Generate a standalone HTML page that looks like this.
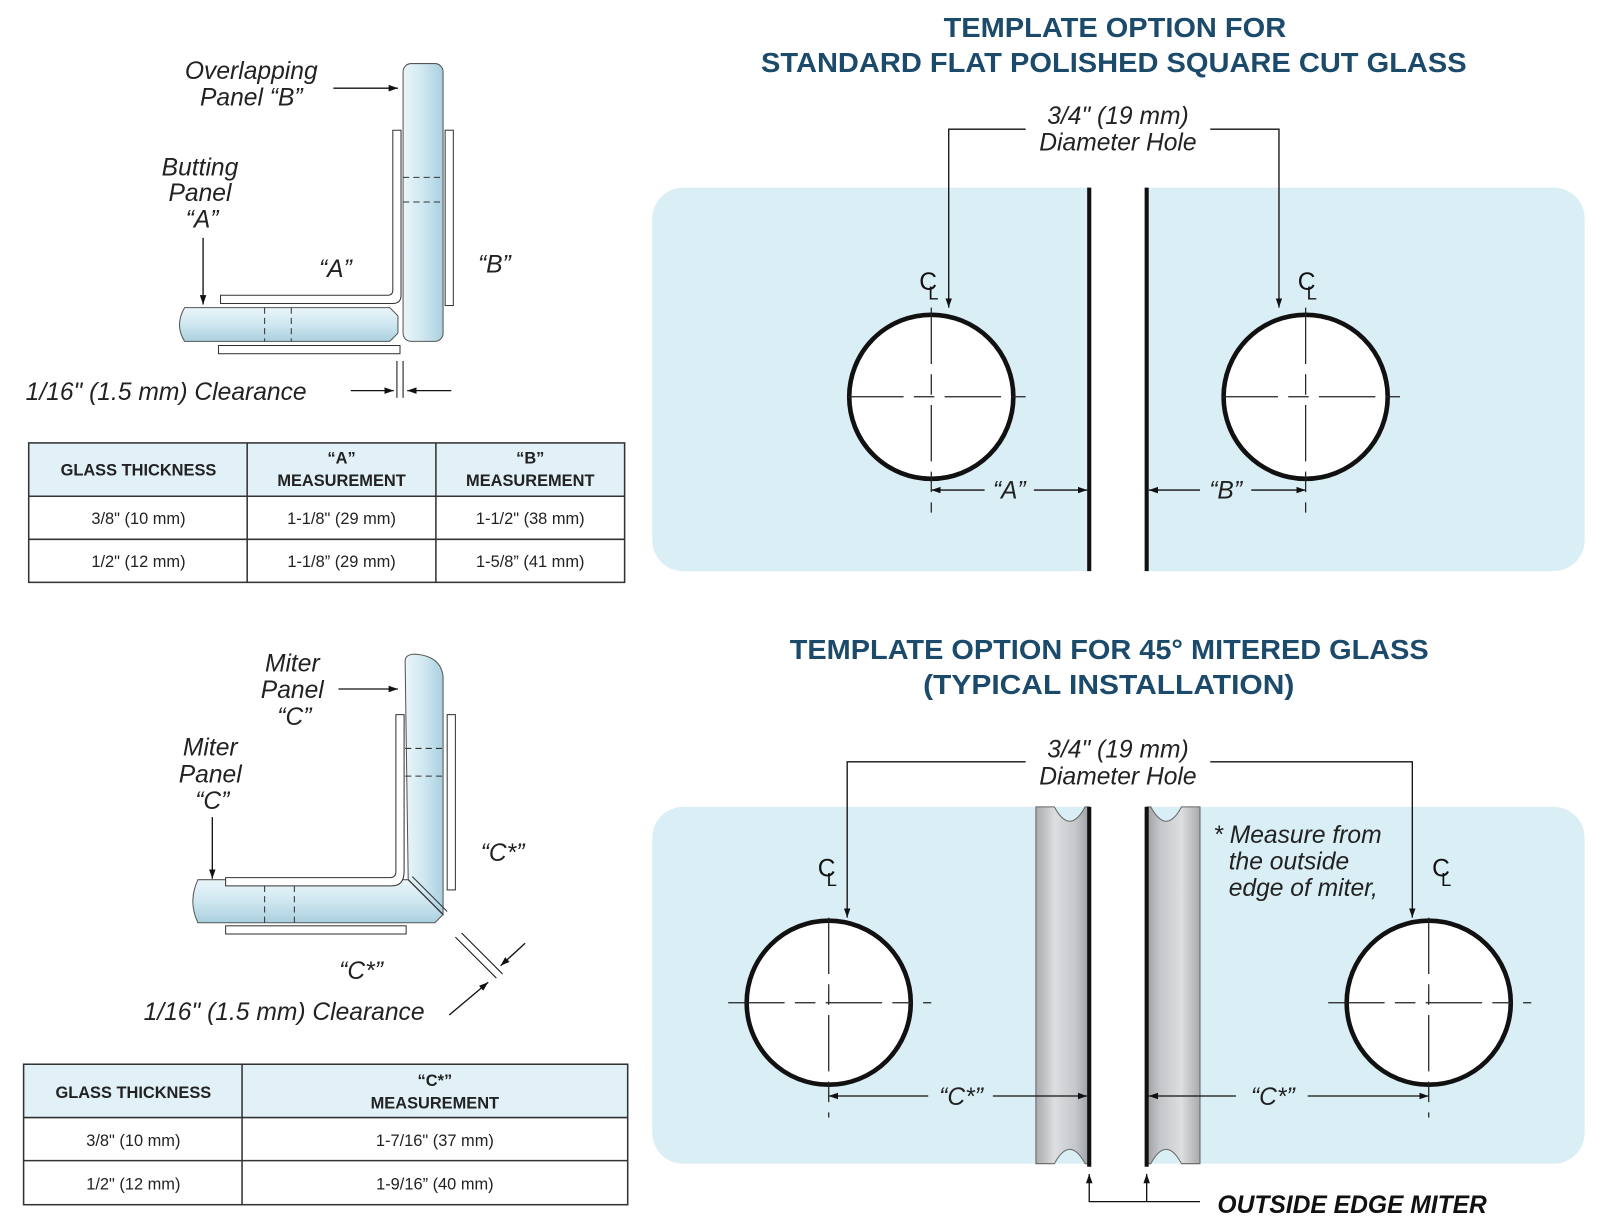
<!DOCTYPE html>
<html><head><meta charset="utf-8"><style>
html,body{margin:0;padding:0;background:#fff;}
svg{display:block;}
.t{font-family:"Liberation Sans",Arial,sans-serif;}
.it{font-family:"Liberation Sans",Arial,sans-serif;font-style:italic;font-size:24px;fill:#222;}
.tt{font-family:"Liberation Sans",Arial,sans-serif;font-weight:bold;font-size:27px;fill:#1b4a6b;}
.th{font-family:"Liberation Sans",Arial,sans-serif;font-weight:bold;font-size:16px;fill:#222;}
.td{font-family:"Liberation Sans",Arial,sans-serif;font-size:16px;fill:#222;}
</style></head><body>
<svg width="1600" height="1217" viewBox="0 0 1560 1187" preserveAspectRatio="none" xmlns="http://www.w3.org/2000/svg">
<defs>
<marker id="ar" viewBox="0 0 10 10" refX="10" refY="5" markerWidth="7" markerHeight="7" orient="auto-start-reverse"><path d="M0,1.5 L10,5 L0,8.5 z" fill="#111"/></marker>
<linearGradient id="gv" x1="0" x2="1" y1="0" y2="0"><stop offset="0" stop-color="#eaf6fa"/><stop offset="0.5" stop-color="#cfe7f0"/><stop offset="1" stop-color="#a9d0de"/></linearGradient>
<linearGradient id="gh" x1="0" x2="0" y1="0" y2="1"><stop offset="0" stop-color="#eaf6fa"/><stop offset="0.5" stop-color="#cfe7f0"/><stop offset="1" stop-color="#a9d0de"/></linearGradient>
<linearGradient id="gm" x1="0" x2="1" y1="0" y2="0"><stop offset="0" stop-color="#a8aaad"/><stop offset="0.35" stop-color="#dcdee0"/><stop offset="0.75" stop-color="#c4c7ca"/><stop offset="1" stop-color="#9c9fa3"/></linearGradient>
<linearGradient id="gm2" x1="0" x2="1" y1="0" y2="0"><stop offset="0" stop-color="#9c9fa3"/><stop offset="0.25" stop-color="#c4c7ca"/><stop offset="0.65" stop-color="#dcdee0"/><stop offset="1" stop-color="#a8aaad"/></linearGradient>
</defs>

<!-- ===== TOP RIGHT ===== -->
<text class="tt" x="920" y="36" textLength="334" lengthAdjust="spacingAndGlyphs">TEMPLATE OPTION FOR</text>
<text class="tt" x="742" y="70" textLength="688" lengthAdjust="spacingAndGlyphs">STANDARD FLAT POLISHED SQUARE CUT GLASS</text>
<rect x="636" y="183" width="909" height="374" rx="30" fill="#d9eef5"/>
<rect x="1062" y="183" width="56" height="374" fill="#fff"/>
<line x1="1062" y1="183" x2="1062" y2="557" stroke="#111" stroke-width="4"/>
<line x1="1118" y1="183" x2="1118" y2="557" stroke="#111" stroke-width="4"/>
<text class="it" x="1090" y="121" text-anchor="middle">3/4" (19 mm)</text>
<text class="it" x="1090" y="147" text-anchor="middle">Diameter Hole</text>
<polyline points="1000,126 925,126 925,300" fill="none" stroke="#111" stroke-width="1.3" marker-end="url(#ar)"/>
<polyline points="1180,126 1247,126 1247,300" fill="none" stroke="#111" stroke-width="1.3" marker-end="url(#ar)"/>
<text class="t" x="905" y="283" font-size="24" text-anchor="middle" fill="#111">C</text><text class="t" x="910" y="292" font-size="18" text-anchor="middle" fill="#111">L</text>
<text class="t" x="1274" y="283" font-size="24" text-anchor="middle" fill="#111">C</text><text class="t" x="1279" y="292" font-size="18" text-anchor="middle" fill="#111">L</text>
<circle cx="908" cy="387" r="80" fill="#fff" stroke="#111" stroke-width="4.5"/>
<circle cx="1273" cy="387" r="80" fill="#fff" stroke="#111" stroke-width="4.5"/>
<g stroke="#222" stroke-width="1.2" stroke-dasharray="55,10,20,10">
<line x1="826" y1="387" x2="1000" y2="387"/><line x1="908" y1="300" x2="908" y2="500"/>
<line x1="1191" y1="387" x2="1365" y2="387"/><line x1="1273" y1="300" x2="1273" y2="500"/>
</g>
<line x1="908" y1="478" x2="960" y2="478" stroke="#111" stroke-width="1.3" marker-start="url(#ar)"/>
<line x1="1008" y1="478" x2="1060" y2="478" stroke="#111" stroke-width="1.3" marker-end="url(#ar)"/>
<text class="it" x="984" y="486" text-anchor="middle">“A”</text>
<line x1="1120" y1="478" x2="1170" y2="478" stroke="#111" stroke-width="1.3" marker-start="url(#ar)"/>
<line x1="1220" y1="478" x2="1273" y2="478" stroke="#111" stroke-width="1.3" marker-end="url(#ar)"/>
<text class="it" x="1195" y="486" text-anchor="middle">“B”</text>

<!-- ===== BOTTOM RIGHT ===== -->
<text class="tt" x="770" y="643" textLength="623" lengthAdjust="spacingAndGlyphs">TEMPLATE OPTION FOR 45° MITERED GLASS</text>
<text class="tt" x="900" y="677" textLength="362" lengthAdjust="spacingAndGlyphs">(TYPICAL  INSTALLATION)</text>
<rect x="636" y="787" width="909" height="348" rx="30" fill="#d9eef5"/>
<path d="M1010,787 L1028,787 Q1043,815 1058,787 L1062,787 L1062,1135 L1058,1135 Q1043,1107 1028,1135 L1010,1135 Z" fill="url(#gm)" stroke="#666" stroke-width="1"/>
<path d="M1118,787 L1122,787 Q1137,815 1152,787 L1170,787 L1170,1135 L1152,1135 Q1137,1107 1122,1135 L1118,1135 Z" fill="url(#gm2)" stroke="#666" stroke-width="1"/>
<rect x="1062" y="787" width="56" height="348" fill="#fff"/>
<line x1="1062" y1="787" x2="1062" y2="1138" stroke="#111" stroke-width="4"/>
<line x1="1118" y1="787" x2="1118" y2="1138" stroke="#111" stroke-width="4"/>
<text class="it" x="1090" y="739" text-anchor="middle">3/4" (19  mm)</text>
<text class="it" x="1090" y="765" text-anchor="middle">Diameter Hole</text>
<polyline points="1000,743 826,743 826,895" fill="none" stroke="#111" stroke-width="1.3" marker-end="url(#ar)"/>
<polyline points="1180,743 1377,743 1377,895" fill="none" stroke="#111" stroke-width="1.3" marker-end="url(#ar)"/>
<text class="t" x="806" y="855" font-size="24" text-anchor="middle" fill="#111">C</text><text class="t" x="811" y="864" font-size="18" text-anchor="middle" fill="#111">L</text>
<text class="t" x="1405" y="855" font-size="24" text-anchor="middle" fill="#111">C</text><text class="t" x="1410" y="864" font-size="18" text-anchor="middle" fill="#111">L</text>
<text class="it" x="1183" y="822">* Measure from</text>
<text class="it" x="1198" y="848">the outside</text>
<text class="it" x="1198" y="874">edge of miter,</text>
<circle cx="808" cy="978" r="80" fill="#fff" stroke="#111" stroke-width="4.5"/>
<circle cx="1393" cy="978" r="80" fill="#fff" stroke="#111" stroke-width="4.5"/>
<g stroke="#222" stroke-width="1.2" stroke-dasharray="55,10,20,10">
<line x1="710" y1="978" x2="908" y2="978"/><line x1="808" y1="895" x2="808" y2="1090"/>
<line x1="1295" y1="978" x2="1493" y2="978"/><line x1="1393" y1="895" x2="1393" y2="1090"/>
</g>
<line x1="808" y1="1069" x2="905" y2="1069" stroke="#111" stroke-width="1.3" marker-start="url(#ar)"/>
<line x1="968" y1="1069" x2="1060" y2="1069" stroke="#111" stroke-width="1.3" marker-end="url(#ar)"/>
<text class="it" x="937" y="1078" text-anchor="middle">“C*”</text>
<line x1="1120" y1="1069" x2="1205" y2="1069" stroke="#111" stroke-width="1.3" marker-start="url(#ar)"/>
<line x1="1275" y1="1069" x2="1393" y2="1069" stroke="#111" stroke-width="1.3" marker-end="url(#ar)"/>
<text class="it" x="1241" y="1078" text-anchor="middle">“C*”</text>
<polyline points="1062,1145 1062,1172 1170,1172" fill="none" stroke="#111" stroke-width="1.3" marker-start="url(#ar)"/>
<line x1="1118" y1="1172" x2="1118" y2="1145" stroke="#111" stroke-width="1.3" marker-end="url(#ar)"/>
<text x="1187" y="1183" font-family="Liberation Sans, Arial, sans-serif" font-weight="bold" font-style="italic" font-size="24" fill="#111">OUTSIDE EDGE MITER</text>

<!-- ===== TOP LEFT DIAGRAM ===== -->
<rect x="393" y="62" width="39" height="271" rx="8" fill="url(#gv)" stroke="#555" stroke-width="1"/>
<path d="M180,300 L380,300 L388,308 L388,325 L380,333 L180,333 Q170,317 180,300 Z" fill="url(#gh)" stroke="#555" stroke-width="1"/>
<path d="M383,127 L391,127 L391,288 Q391,296 383,296 L215,296 L215,288 L378,288 Q383,288 383,283 Z" fill="#fff" stroke="#333" stroke-width="1"/>
<rect x="434" y="127" width="8" height="171" fill="#fff" stroke="#333" stroke-width="1"/>
<rect x="213" y="337" width="177" height="8" fill="#fff" stroke="#333" stroke-width="1"/>
<g stroke="#333" stroke-width="1" stroke-dasharray="6,4">
<line x1="393" y1="173" x2="432" y2="173"/><line x1="393" y1="197" x2="432" y2="197"/>
<line x1="258" y1="300" x2="258" y2="333"/><line x1="284" y1="300" x2="284" y2="333"/>
</g>
<text class="it" x="245" y="77" text-anchor="middle">Overlapping</text>
<text class="it" x="245" y="103" text-anchor="middle">Panel “B”</text>
<line x1="325" y1="86" x2="388" y2="86" stroke="#111" stroke-width="1.3" marker-end="url(#ar)"/>
<text class="it" x="195" y="171" text-anchor="middle">Butting</text>
<text class="it" x="195" y="196" text-anchor="middle">Panel</text>
<text class="it" x="197" y="222" text-anchor="middle">“A”</text>
<line x1="198" y1="232" x2="198" y2="297" stroke="#111" stroke-width="1.3" marker-end="url(#ar)"/>
<text class="it" x="327" y="270" text-anchor="middle">“A”</text>
<text class="it" x="482" y="266" text-anchor="middle">“B”</text>
<text class="it" x="25" y="390">1/16" (1.5 mm) Clearance</text>
<line x1="342" y1="381" x2="384" y2="381" stroke="#111" stroke-width="1.3" marker-end="url(#ar)"/>
<line x1="440" y1="381" x2="397" y2="381" stroke="#111" stroke-width="1.3" marker-end="url(#ar)"/>
<line x1="387" y1="352" x2="387" y2="388" stroke="#111" stroke-width="1"/>
<line x1="393" y1="352" x2="393" y2="388" stroke="#111" stroke-width="1"/>

<!-- Table 1 -->
<rect x="28" y="432" width="581" height="52" fill="#e1f1f7"/>
<g stroke="#333" stroke-width="1.5" fill="none">
<rect x="28" y="432" width="581" height="136"/>
<line x1="28" y1="484" x2="609" y2="484"/><line x1="28" y1="526" x2="609" y2="526"/>
<line x1="241" y1="432" x2="241" y2="568"/><line x1="425" y1="432" x2="425" y2="568"/>
</g>
<text class="th" x="135" y="464" text-anchor="middle">GLASS THICKNESS</text>
<text class="th" x="333" y="452" text-anchor="middle">“A”</text>
<text class="th" x="333" y="474" text-anchor="middle">MEASUREMENT</text>
<text class="th" x="517" y="452" text-anchor="middle">“B”</text>
<text class="th" x="517" y="474" text-anchor="middle">MEASUREMENT</text>
<text class="td" x="135" y="511" text-anchor="middle">3/8" (10 mm)</text>
<text class="td" x="333" y="511" text-anchor="middle">1-1/8" (29 mm)</text>
<text class="td" x="517" y="511" text-anchor="middle">1-1/2" (38 mm)</text>
<text class="td" x="135" y="553" text-anchor="middle">1/2" (12 mm)</text>
<text class="td" x="333" y="553" text-anchor="middle">1-1/8” (29 mm)</text>
<text class="td" x="517" y="553" text-anchor="middle">1-5/8” (41 mm)</text>

<!-- ===== BOTTOM LEFT DIAGRAM ===== -->
<path d="M395,645 Q395,638 405,638 Q430,640 432,660 L432,892 L398,858 Z" fill="url(#gv)" stroke="#555" stroke-width="1"/>
<path d="M193,858 L398,858 L432,892 L424,900 L193,900 Q183,879 193,858 Z" fill="url(#gh)" stroke="#555" stroke-width="1"/>
<line x1="398" y1="858" x2="432" y2="892" stroke="#333" stroke-width="1.2"/>
<line x1="402" y1="855" x2="436" y2="889" stroke="#333" stroke-width="1"/>
<path d="M386,697 L394,697 L394,850 Q394,864 382,864 L220,864 L220,856 L380,856 Q386,856 386,850 Z" fill="#fff" stroke="#333" stroke-width="1"/>
<rect x="436" y="697" width="8" height="171" fill="#fff" stroke="#333" stroke-width="1"/>
<rect x="220" y="903" width="176" height="8" fill="#fff" stroke="#333" stroke-width="1"/>
<g stroke="#333" stroke-width="1" stroke-dasharray="6,4">
<line x1="395" y1="730" x2="432" y2="730"/><line x1="395" y1="757" x2="432" y2="757"/>
<line x1="258" y1="864" x2="258" y2="900"/><line x1="287" y1="864" x2="287" y2="900"/>
</g>
<text class="it" x="285" y="655" text-anchor="middle">Miter</text>
<text class="it" x="285" y="681" text-anchor="middle">Panel</text>
<text class="it" x="287" y="707" text-anchor="middle">“C”</text>
<line x1="330" y1="672" x2="388" y2="672" stroke="#111" stroke-width="1.3" marker-end="url(#ar)"/>
<text class="it" x="205" y="737" text-anchor="middle">Miter</text>
<text class="it" x="205" y="763" text-anchor="middle">Panel</text>
<text class="it" x="207" y="789" text-anchor="middle">“C”</text>
<line x1="207" y1="797" x2="207" y2="857" stroke="#111" stroke-width="1.3" marker-end="url(#ar)"/>
<text class="it" x="490" y="840" text-anchor="middle">“C*”</text>
<text class="it" x="352" y="955" text-anchor="middle">“C*”</text>
<text class="it" x="140" y="995">1/16" (1.5 mm) Clearance</text>
<line x1="444" y1="914" x2="484" y2="954" stroke="#111" stroke-width="1"/>
<line x1="450" y1="910" x2="490" y2="950" stroke="#111" stroke-width="1"/>
<line x1="512" y1="920" x2="488" y2="942" stroke="#111" stroke-width="1.3" marker-end="url(#ar)"/>
<line x1="438" y1="990" x2="476" y2="958" stroke="#111" stroke-width="1.3" marker-end="url(#ar)"/>

<!-- Table 2 -->
<rect x="23" y="1038" width="589" height="52" fill="#e1f1f7"/>
<g stroke="#333" stroke-width="1.5" fill="none">
<rect x="23" y="1038" width="589" height="137"/>
<line x1="23" y1="1090" x2="612" y2="1090"/><line x1="23" y1="1132" x2="612" y2="1132"/>
<line x1="236" y1="1038" x2="236" y2="1175"/>
</g>
<text class="th" x="130" y="1071" text-anchor="middle">GLASS THICKNESS</text>
<text class="th" x="424" y="1059" text-anchor="middle">“C*”</text>
<text class="th" x="424" y="1081" text-anchor="middle">MEASUREMENT</text>
<text class="td" x="130" y="1118" text-anchor="middle">3/8" (10 mm)</text>
<text class="td" x="424" y="1118" text-anchor="middle">1-7/16" (37 mm)</text>
<text class="td" x="130" y="1160" text-anchor="middle">1/2" (12 mm)</text>
<text class="td" x="424" y="1160" text-anchor="middle">1-9/16” (40 mm)</text>
</svg>
</body></html>
